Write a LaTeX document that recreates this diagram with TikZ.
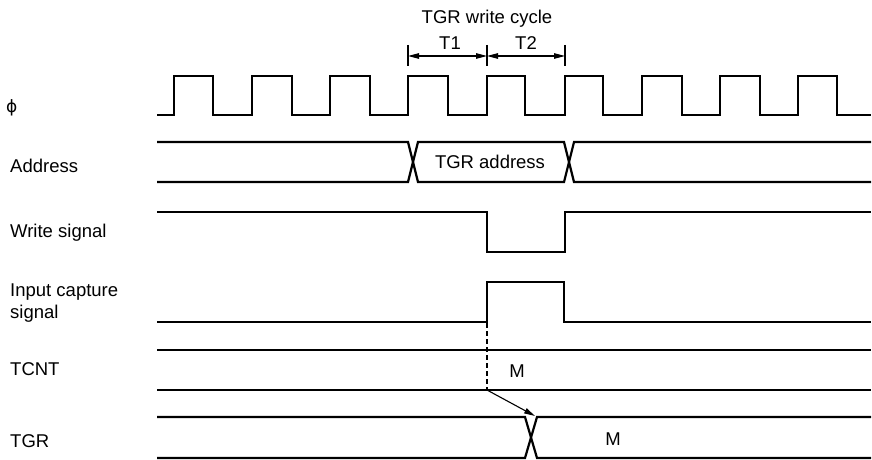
\documentclass[tikz,border=0pt]{standalone}
\usepackage{fontspec}
\setmainfont{Liberation Sans}
\newfontfamily\phifont{DejaVu Sans}
\usetikzlibrary{arrows.meta}
\begin{document}
\begin{tikzpicture}[x=1pt,y=-1pt,
  sig/.style={line width=2.2pt, line join=miter},
  thin/.style={line width=1.1pt},
  lbl/.style={font=\fontsize{18.5}{21}\selectfont, anchor=base west, inner sep=0pt},
  txt/.style={font=\fontsize{18.5}{21}\selectfont, anchor=base, inner sep=0pt},
  dim/.style={thin, {Triangle[length=11pt,width=5.5pt]}-{Triangle[length=11pt,width=5.5pt]}},
  tip/.style={thin, -{Triangle[length=11pt,width=5.5pt]}}]
\useasboundingbox (0,0) rectangle (872,460);
% labels
\node[lbl, font=\phifont\fontsize{17}{19}\selectfont] (lphi) at (6,112) {ϕ};
\node[lbl] (laddr) at (10,172) {Address};
\node[lbl] (lwr) at (10,237) {Write signal};
\node[lbl] (lic1) at (10,296) {Input capture};
\node[lbl] (lic2) at (10,318) {signal};
\node[lbl] (ltcnt) at (10,375) {TCNT};
\node[lbl] (ltgr) at (10,447) {TGR};
% top annotation
\node[txt] (cyc) at (487,24) {TGR write cycle};
\node[txt] (t1) at (450,50) {T1};
\node[txt] (t2) at (526,50) {T2};
\coordinate (k1) at (408,56);
\coordinate (k2) at (487,56);
\coordinate (k3) at (565,56);
\draw[thin] (408,45) -- (408,66);
\draw[thin] (487,45) -- (487,66);
\draw[thin] (565,45) -- (565,66);
\draw[dim] (k1) -- (k2);
\draw[dim] (k2) -- (k3);
% clock
\draw[sig] (157,115) -- (174,115)
  -- (174,76) -- (213,76) -- (213,115) -- (252,115)
  -- (252,76) -- (292,76) -- (292,115) -- (330,115)
  -- (330,76) -- (370,76) -- (370,115) -- (408,115)
  -- (408,76) -- (448,76) -- (448,115) -- (487,115)
  -- (487,76) -- (525,76) -- (525,115) -- (565,115)
  -- (565,76) -- (603,76) -- (603,115) -- (642,115)
  -- (642,76) -- (682,76) -- (682,115) -- (720,115)
  -- (720,76) -- (760,76) -- (760,115) -- (798,115)
  -- (798,76) -- (837,76) -- (837,115) -- (871,115);
% address
\draw[sig] (157,142) -- (408,142) -- (418,182) -- (564,182) -- (574,142) -- (871,142);
\draw[sig] (157,182) -- (408,182) -- (418,142) -- (564,142) -- (574,182) -- (871,182);
\node[txt] (addr) at (490,168) {TGR address};
% write signal
\draw[sig] (157,212) -- (487,212) -- (487,252) -- (565,252) -- (565,212) -- (871,212);
% input capture
\draw[sig] (157,322) -- (487,322) -- (487,282) -- (564,282) -- (564,322) -- (871,322);
% TCNT
\draw[sig] (157,350) -- (871,350);
\draw[sig] (157,390) -- (871,390);
\node[txt] (m1) at (517,377) {M};
% TGR
\draw[sig] (157,417) -- (525,417) -- (537,458) -- (871,458);
\draw[sig] (157,458) -- (525,458) -- (537,417) -- (871,417);
\node[txt] (m2) at (613,445) {M};
% dashed and arrow
\coordinate (cap) at (487,323);
\coordinate (cnt) at (487,390);
\coordinate (tgrx) at (535,416);
\draw[thin, dash pattern=on 5pt off 3pt] (cap) -- (cnt);
\draw[tip] (cnt) -- (tgrx);
\end{tikzpicture}
\end{document}
